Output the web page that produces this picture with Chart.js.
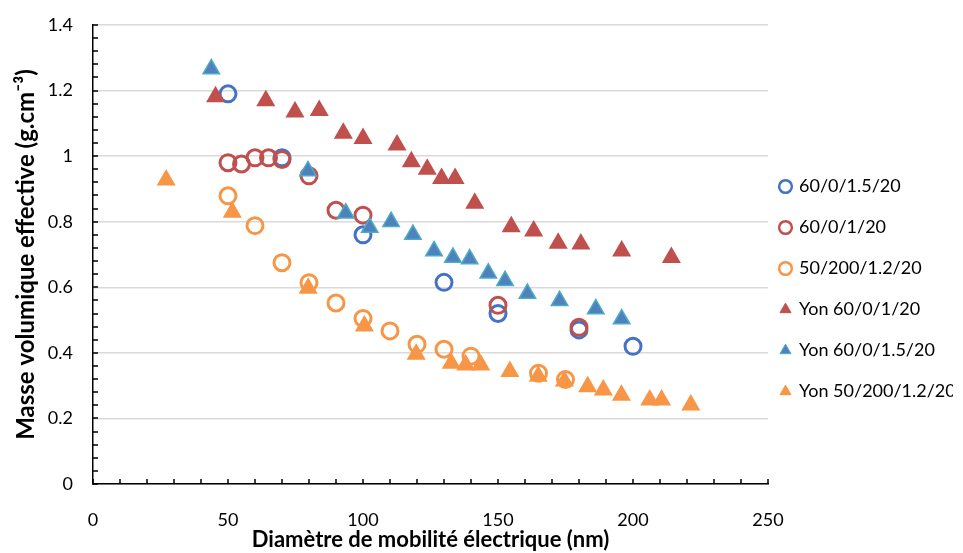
<!DOCTYPE html>
<html><head><meta charset="utf-8">
<script src="https://cdn.jsdelivr.net/npm/chart.js@4/dist/chart.umd.min.js"></script>
<style>html,body{margin:0;padding:0;background:#fff;}</style>
</head><body>
<canvas id="c" width="963" height="553"></canvas>
<script>
const seriesNames = ['60/0/1.5/20','60/0/1/20','50/200/1.2/20','Yon 60/0/1/20','Yon 60/0/1.5/20','Yon 50/200/1.2/20'];

const blueCircX = [50,70,100,130,150,180,200];
const blueCircY = [1.19,0.995,0.76,0.615,0.52,0.47,0.42];

const redCircX = [50,55,60,65,70,80,90,100,150,180];
const redCircY = [0.98,0.976,0.995,0.995,0.99,0.94,0.835,0.82,0.545,0.478];

const orangeCircX = [50,60,70,80,90,100,110,120,130,140,165,175];
const orangeCircY = [0.879,0.788,0.675,0.614,0.552,0.505,0.467,0.426,0.411,0.39,0.338,0.319];

const redTriX = [45.4,64,74.8,83.8,92.7,100,112.6,117.9,123.8,129.1,134.1,141.4,154.9,163.2,172.3,180.7,195.8,214.2];
const redTriY = [1.181,1.169,1.135,1.139,1.07,1.054,1.034,0.983,0.96,0.932,0.932,0.856,0.785,0.772,0.734,0.732,0.711,0.691];

const blueTriX = [43.8,79.6,93.6,102.5,110.4,118.5,126.3,133.3,139.5,146.4,152.6,160.9,172.8,186.2,195.8];
const blueTriY = [1.266,0.955,0.826,0.782,0.8,0.761,0.711,0.691,0.686,0.643,0.62,0.581,0.559,0.534,0.503];

const orangeTriX = [27.1,51.6,79.7,100.5,119.7,132.7,138,143.6,154.4,164.9,174.6,183.2,189,195.7,206.2,210.6,221.4];
const orangeTriY = [0.927,0.829,0.597,0.482,0.396,0.368,0.363,0.363,0.343,0.329,0.314,0.297,0.287,0.271,0.256,0.256,0.241];

const xTickLabels = [0,50,100,150,200,250];
const yTickLabels = [0,0.2,0.4,0.6,0.8,1,1.2,1.4];

function pts(xs, ys){ return xs.map((x,i)=>({x:x, y:ys[i]})); }

const FONT = 'Lato, "Open Sans", sans-serif';

function circleDs(name, xs, ys, color, idx){
  return {label:name, data:pts(xs,ys), pointStyle:'circle', pointRadius:8, pointHoverRadius:8,
    borderColor:color, backgroundColor:'rgba(255,255,255,0)', borderWidth:3, showLine:false, order:6-idx};
}
function triDs(name, xs, ys, fill, border, idx){
  return {label:name, data:pts(xs,ys), pointStyle:'triangle', pointRadius:9.5, pointHoverRadius:9.5,
    borderColor:border, backgroundColor:fill, borderWidth:1.5, showLine:false, order:6-idx};
}

const datasets = [
  circleDs(seriesNames[0], blueCircX, blueCircY, '#4472C4', 0),
  circleDs(seriesNames[1], redCircX, redCircY, '#C0504D', 1),
  circleDs(seriesNames[2], orangeCircX, orangeCircY, '#F79646', 2),
  triDs(seriesNames[3], redTriX, redTriY, '#C0504D', '#C0504D', 3),
  triDs(seriesNames[4], blueTriX, blueTriY, '#4F81BD', '#4BACC6', 4),
  triDs(seriesNames[5], orangeTriX, orangeTriY, '#F79646', '#F79646', 5)
];

const innerTicks = {
  id:'innerTicks',
  afterLayout(chart){
    const lg = chart.legend;
    if (lg){ lg.left -= 10; lg.right -= 10; }
  },
  afterDraw(chart){
    const ctx = chart.ctx, xs = chart.scales.x, ys = chart.scales.y;
    ctx.save();
    ctx.strokeStyle = '#000'; ctx.lineWidth = 1.5;
    ctx.beginPath();
    for (let v = 0; v <= 250.001; v += 10){
      const px = Math.round(xs.getPixelForValue(v));
      ctx.moveTo(px, ys.bottom); ctx.lineTo(px, ys.bottom - 5);
    }
    for (let k = 0; k <= 35; k++){
      const py = Math.round(ys.getPixelForValue(k*0.04));
      ctx.moveTo(xs.left, py); ctx.lineTo(xs.left + 5, py);
    }
    ctx.stroke();
    ctx.restore();
  }
};

new Chart(document.getElementById('c'), {
  type:'scatter',
  data:{datasets:datasets},
  plugins:[innerTicks],
  options:{
    responsive:false, animation:false, devicePixelRatio:1,
    layout:{padding:{top:25,right:0,bottom:0,left:12}},
    plugins:{
      tooltip:{enabled:false},
      legend:{
        position:'right', align:'center', maxWidth:195,
        labels:{
          usePointStyle:true, boxWidth:9, boxHeight:9, padding:23,
          font:{family:FONT, size:18}, color:'#000',
          generateLabels(chart){
            const items = Chart.defaults.plugins.legend.labels.generateLabels(chart);
            items.forEach(it=>{ it.lineWidth = it.pointStyle==='circle' ? 2.5 : 1; });
            items.sort((a,b)=>seriesNames.indexOf(a.text)-seriesNames.indexOf(b.text));
            return items;
          }
        }
      }
    },
    scales:{
      x:{
        type:'linear', min:0, max:250,
        afterBuildTicks(s){ s.ticks = xTickLabels.map(v=>({value:v})); },
        afterFit(s){ s.height = 69; },
        ticks:{font:{family:FONT,size:18}, color:'#000', padding:25, callback:(v)=>String(v)},
        grid:{display:false, drawTicks:false},
        border:{display:true, color:'#000', width:1.5},
        title:{display:true, text:'Diamètre de mobilité électrique (nm)', font:{family:FONT,size:22,weight:'bold'}, color:'#000', padding:{top:0,bottom:0}}
      },
      y:{
        type:'linear', min:0, max:1.4,
        afterBuildTicks(s){ s.ticks = yTickLabels.map(v=>({value:v})); },
        afterFit(s){ s.width = 81; },
        ticks:{font:{family:FONT,size:18,lineHeight:0.5}, color:'#000', padding:20, callback:(v)=>String(v)},
        grid:{color:'#D9D9D9', lineWidth:1.5, drawTicks:false},
        border:{display:true, color:'#000', width:1.5},
        title:{display:true, text:'Masse volumique effective (g.cm⁻³)', font:{family:FONT,size:24,weight:'bold'}, color:'#000', padding:{top:0,bottom:0}}
      }
    }
  }
});
</script>
</body></html>
